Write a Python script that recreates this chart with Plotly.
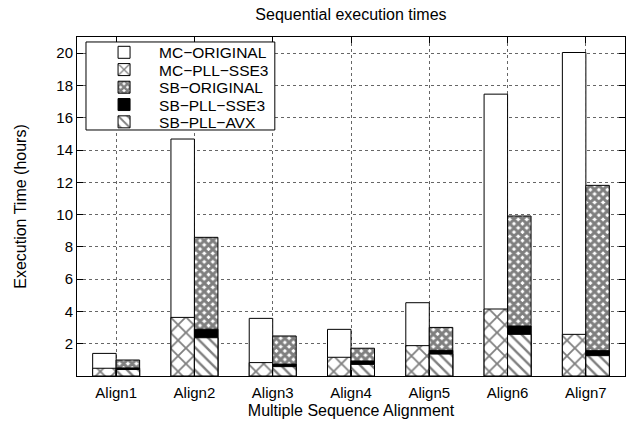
import numpy as np
import plotly.graph_objects as go

categories = ["Align1", "Align2", "Align3", "Align4", "Align5", "Align6", "Align7"]
mc_original = [1.40, 14.68, 3.57, 2.89, 4.54, 17.46, 20.04]
mc_pll_sse3 = [0.48, 3.63, 0.83, 1.16, 1.88, 4.15, 2.58]
sb_original = [0.99, 8.59, 2.48, 1.72, 3.01, 9.91, 11.81]
sb_pll_sse3 = [0.50, 2.90, 0.74, 0.93, 1.59, 3.10, 1.57]
sb_pll_avx = [0.40, 2.37, 0.58, 0.72, 1.36, 2.58, 1.26]
y_ticks = [2, 4, 6, 8, 10, 12, 14, 16, 18, 20]

idx = np.arange(len(categories))
bw = 0.3
x_mc = idx - bw / 2
x_sb = idx + bw / 2

FONT = "Liberation Sans, Arial, sans-serif"
line = dict(color="black", width=1)

series = [
    ("MC\u2212ORIGINAL", x_mc, mc_original, dict(color="white", line=line)),
    ("MC\u2212PLL\u2212SSE3", x_mc, mc_pll_sse3,
     dict(color="white", line=line,
          pattern=dict(shape="x", size=11, solidity=0.3, fgcolor="black", bgcolor="white"))),
    ("SB\u2212ORIGINAL", x_sb, sb_original,
     dict(color="white", line=line,
          pattern=dict(shape="x", size=6, solidity=0.75, fgcolor="black", bgcolor="white"))),
    ("SB\u2212PLL\u2212SSE3", x_sb, sb_pll_sse3, dict(color="black", line=line)),
    ("SB\u2212PLL\u2212AVX", x_sb, sb_pll_avx,
     dict(color="white", line=line,
          pattern=dict(shape="\\", size=8, solidity=0.3, fgcolor="black", bgcolor="white"))),
]

# legend rows (paper y of each row centre)
legend_rows = [0.9536, 0.9026, 0.8506, 0.7995, 0.7485]

fig = go.Figure()
layout_legends = {}
for i, (name, xs, ys, marker) in enumerate(series):
    lg = "legend" if i == 0 else f"legend{i + 1}"
    fig.add_trace(go.Bar(name=name, x=xs, y=ys, width=bw, marker=marker, legend=lg))
    layout_legends[lg] = dict(
        x=0.022, y=legend_rows[i], xanchor="left", yanchor="middle",
        bgcolor="rgba(0,0,0,0)", borderwidth=0, font=dict(size=15.5),
        itemwidth=60,
    )

fig.update_layout(
    width=637, height=426,
    barmode="overlay",
    plot_bgcolor="white", paper_bgcolor="white",
    margin=dict(l=77, r=12, t=37, b=50, autoexpand=False),
    font=dict(family=FONT, size=15, color="black"),
    title=dict(text="Sequential execution times", x=0.551, xanchor="center",
               y=0.967, yanchor="middle", font=dict(size=16)),
    showlegend=True,
    shapes=[dict(type="rect", xref="paper", yref="paper",
                 x0=0.0164, x1=0.361, y0=0.7257, y1=0.9853,
                 fillcolor="white", line=dict(color="black", width=1), layer="above")],
    **layout_legends,
)
fig.update_xaxes(
    range=[-0.5, 6.5], tickvals=idx, ticktext=categories,
    showline=True, linecolor="black", linewidth=1, mirror="ticks",
    ticks="inside", ticklen=6, tickcolor="black",
    showgrid=True, gridcolor="#666", griddash="dot", gridwidth=1,
    zeroline=False, ticklabelstandoff=3, automargin=False,
    title=dict(text="Multiple Sequence Alignment", font=dict(size=16), standoff=4),
)
fig.update_yaxes(
    range=[0, 21], tickvals=y_ticks,
    showline=True, linecolor="black", linewidth=1, mirror="ticks",
    ticks="inside", ticklen=6, tickcolor="black",
    showgrid=True, gridcolor="#666", griddash="dot", gridwidth=1,
    zeroline=False, automargin=False,
    title=dict(text="Execution Time (hours)", font=dict(size=16), standoff=25),
)

fig.write_html("out.html")
